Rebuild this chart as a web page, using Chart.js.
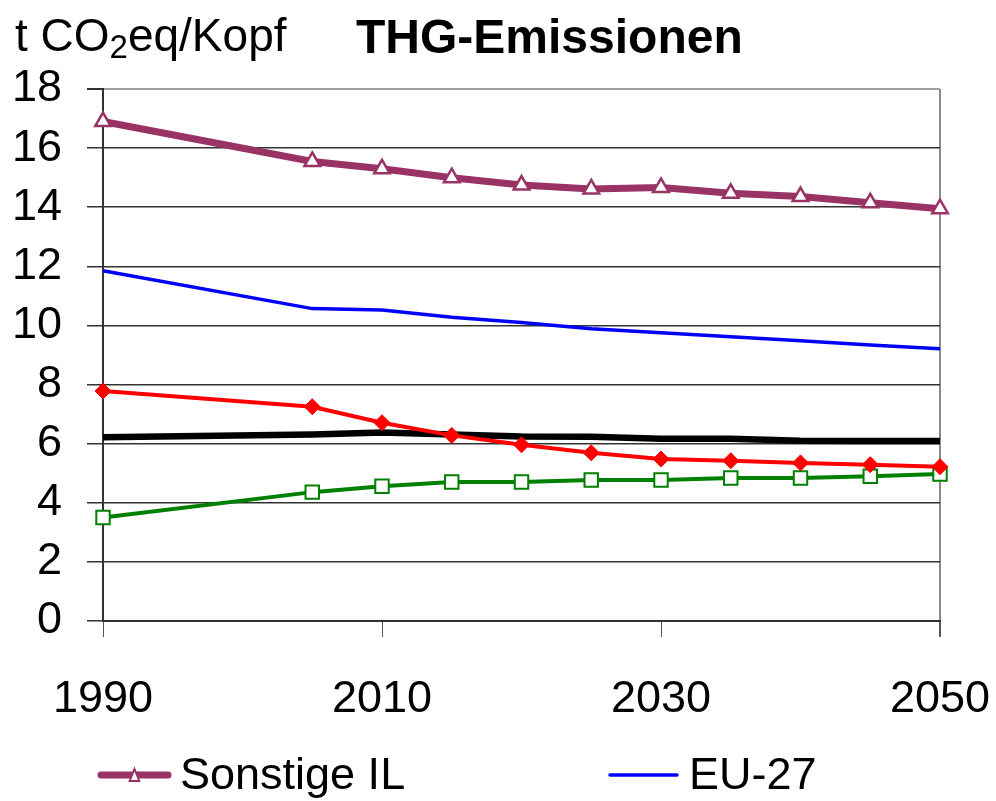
<!DOCTYPE html>
<html>
<head>
<meta charset="utf-8">
<script src="https://cdn.jsdelivr.net/npm/chart.js@4.4.1/dist/chart.umd.min.js"></script>
<style>
  html, body { margin: 0; padding: 0; background: #fff; }
  #wrap { position: relative; width: 996px; height: 801px; overflow: hidden; }
  .lbl { position: absolute; font-family: "Liberation Sans", Arial, sans-serif; line-height: 1; white-space: nowrap; color: #000; }
  #unit { left: 15px; top: 12px; font-size: 46px; }
  #unit sub { font-size: 33px; vertical-align: -7px; line-height: 0; }
  #title { left: 356px; top: 13px; font-size: 48px; font-weight: bold; }
</style>
</head>
<body>
<div id="wrap">
  <canvas id="thgChart" width="996" height="801"></canvas>
  <div class="lbl" id="unit">t CO<sub>2</sub>eq/Kopf</div>
  <div class="lbl" id="title">THG-Emissionen</div>
</div>
<script>
// years of the data points
var years = [1990, 2005, 2010, 2015, 2020, 2025, 2030, 2035, 2040, 2045, 2050];

// t CO2eq per head
var sonstigeIL = [16.9, 15.55, 15.3, 15.0, 14.75, 14.62, 14.67, 14.47, 14.36, 14.15, 13.95];
var eu27 = [11.85, 10.57, 10.52, 10.28, 10.1, 9.89, 9.75, 9.62, 9.48, 9.34, 9.21];
var redSeries = [7.78, 7.25, 6.71, 6.28, 5.96, 5.69, 5.48, 5.42, 5.35, 5.29, 5.22];
var blackSeries = [6.22, 6.31, 6.38, 6.31, 6.24, 6.23, 6.17, 6.17, 6.1, 6.09, 6.09];
var greenSeries = [3.5, 4.36, 4.56, 4.7, 4.7, 4.77, 4.77, 4.84, 4.84, 4.9, 4.97];

var xTicks = [1990, 2010, 2030, 2050];
var yTicks = [0, 2, 4, 6, 8, 10, 12, 14, 16, 18];

function pts(vals) {
    return years.map((y, i) => ({ x: y, y: vals[i] }));
}

var FONT = '"Liberation Sans", Arial, sans-serif';

// legend: only the first row is visible in the picture
var legendPlugin = {
    id: 'bottomLegend',
    afterDraw(chart) {
        var ctx = chart.ctx;
        var items = [
            { ds: chart.data.datasets[0], x0: 101, x1: 168, tx: 180 },
            { ds: chart.data.datasets[1], x0: 610, x1: 677, tx: 689 }
        ];
        var y = 775;
        ctx.save();
        items.forEach(it => {
            var ds = it.ds;
            ctx.strokeStyle = ds.borderColor;
            ctx.lineWidth = ds.borderWidth;
            ctx.lineCap = 'round';
            ctx.beginPath();
            ctx.moveTo(it.x0, y);
            ctx.lineTo(it.x1, y);
            ctx.stroke();
            if (ds.pointRadius > 0) {
                // small triangle like the reference legend
                var r = 6, cx = (it.x0 + it.x1) / 2;
                ctx.fillStyle = ds.pointBackgroundColor;
                ctx.strokeStyle = ds.pointBorderColor;
                ctx.lineWidth = 2;
                ctx.lineCap = 'butt';
                ctx.beginPath();
                ctx.moveTo(cx, y - r);
                ctx.lineTo(cx + r * 0.8, y + r);
                ctx.lineTo(cx - r * 0.8, y + r);
                ctx.closePath();
                ctx.fill();
                ctx.stroke();
            }
            ctx.fillStyle = '#000';
            ctx.font = '45px ' + FONT;
            ctx.textBaseline = 'middle';
            ctx.textAlign = 'left';
            ctx.fillText(ds.label, it.tx, y + 2);
        });
        ctx.restore();
    }
};

var ctx = document.getElementById('thgChart').getContext('2d');
var myChart = new Chart(ctx, {
    type: 'line',
    data: {
        datasets: [{
            label: 'Sonstige IL',
            data: pts(sonstigeIL),
            borderColor: '#993366',
            borderWidth: 7,
            pointStyle: 'triangle',
            pointRadius: 9,
            pointBorderWidth: 2.5,
            pointBackgroundColor: '#ffffff',
            pointBorderColor: '#993366',
            clip: false
        }, {
            label: 'EU-27',
            data: pts(eu27),
            borderColor: '#0000ff',
            borderWidth: 3.5,
            pointRadius: 0,
            clip: false
        }, {
            label: 'Reihe 3',
            data: pts(redSeries),
            borderColor: '#ff0000',
            borderWidth: 4,
            pointStyle: 'rectRot',
            pointRadius: 8,
            pointBorderWidth: 1,
            pointBackgroundColor: '#ff0000',
            pointBorderColor: '#ff0000',
            clip: false
        }, {
            label: 'Reihe 4',
            data: pts(blackSeries),
            borderColor: '#000000',
            borderWidth: 6.5,
            pointRadius: 0,
            clip: false
        }, {
            label: 'Reihe 5',
            data: pts(greenSeries),
            borderColor: '#008000',
            borderWidth: 4,
            pointStyle: 'rect',
            pointRadius: 9.5,
            pointBorderWidth: 2,
            pointBackgroundColor: '#ffffff',
            pointBorderColor: '#008000',
            clip: false
        }]
    },
    options: {
        responsive: false,
        animation: false,
        layout: { padding: { top: 89, right: 56, bottom: 80, left: 0 } },
        plugins: {
            legend: { display: false },
            tooltip: { enabled: false }
        },
        elements: { line: { tension: 0 } },
        scales: {
            x: {
                type: 'linear',
                min: 1990,
                max: 2050,
                afterBuildTicks: s => { s.ticks = xTicks.map(v => ({ value: v })); },
                afterFit: s => { s.height = 100; s.paddingLeft = 0; s.paddingRight = 0; },
                ticks: {
                    font: { family: FONT, size: 45 },
                    color: '#000',
                    padding: 36,
                    maxRotation: 0,
                    callback: v => String(v)
                },
                grid: {
                    drawOnChartArea: true,
                    color: c => (c.tick && c.tick.value === 2050) ? '#8c8c8c' : 'rgba(0,0,0,0)',
                    lineWidth: c => (c.tick && c.tick.value === 2050) ? 2 : 1,
                    tickColor: '#555',
                    tickLength: 16
                },
                border: { color: '#333', width: 2 }
            },
            y: {
                min: 0,
                max: 18,
                afterBuildTicks: s => { s.ticks = yTicks.map(v => ({ value: v })); },
                afterFit: s => { s.width = 103; },
                ticks: {
                    font: { family: FONT, size: 45 },
                    color: '#000',
                    padding: 25
                },
                grid: {
                    color: c => (c.tick && c.tick.value === 18) ? '#a0a0a0' : '#333',
                    lineWidth: c => (c.tick && c.tick.value === 18) ? 2 : 1.5,
                    tickColor: '#333',
                    tickLength: 16
                },
                border: { color: '#333', width: 2 }
            }
        }
    },
    plugins: [legendPlugin]
});
</script>
</body>
</html>
